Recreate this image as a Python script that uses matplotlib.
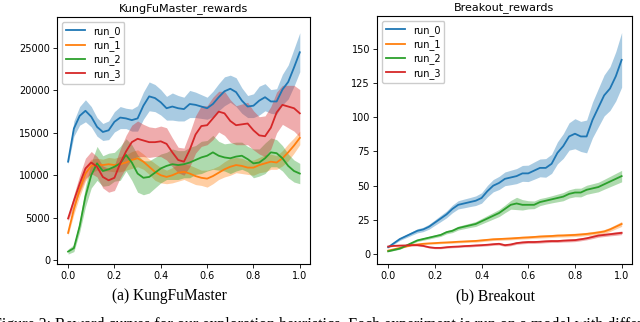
import numpy as np
import matplotlib.pyplot as plt

# x grid (fraction of training)
x = np.linspace(0, 1, 41)

# KungFuMaster means and band half-widths
kfm_run0 = [11600, 15500, 17000, 17600, 16900, 15700, 15100, 15300, 16300, 16800,
            16700, 16500, 16700, 18200, 19300, 19100, 18600, 17900, 18100, 17900,
            17800, 18400, 18300, 18100, 17900, 18400, 19200, 19900, 20200, 19800,
            18800, 18100, 18200, 18800, 19200, 18700, 18700, 20100, 21000, 22700, 24500]
kfm_run0_err = [300, 900, 1100, 1300, 1200, 1100, 1000, 1100, 1200, 1300,
                1200, 1300, 1500, 1600, 1700, 1600, 1500, 1400, 1600, 1500,
                1400, 1600, 1500, 1400, 1300, 1500, 1600, 1700, 1600, 1700,
                1500, 1300, 1400, 1700, 1600, 1400, 1500, 1800, 2000, 2200, 2300]
kfm_run1 = [3200, 6000, 8300, 10200, 11100, 11300, 11200, 11300, 11200, 11300,
            11500, 11800, 12000, 11600, 11000, 10400, 10000, 9800, 10000, 10300,
            10400, 10200, 9900, 9700, 9600, 9900, 10300, 10700, 11000, 11200,
            11100, 10900, 10900, 11200, 11400, 11600, 11500, 12000, 12700, 13500, 14400]
kfm_run1_err = [300, 600, 800, 900, 800, 700, 700, 800, 800, 900,
                900, 1000, 1000, 900, 900, 1000, 900, 800, 900, 1000,
                900, 1000, 1000, 900, 1000, 900, 800, 900, 1000, 900,
                900, 800, 900, 900, 1000, 900, 800, 900, 1000, 900, 800]
kfm_run2 = [1000, 1400, 4000, 7500, 10000, 11400, 10500, 10700, 11000, 11400,
            12400, 11500, 10200, 9700, 9800, 10300, 10800, 11100, 11300, 11200,
            11300, 11500, 11800, 12100, 12300, 12700, 12300, 12100, 12000, 12200,
            12300, 11900, 11400, 11500, 12000, 12700, 12600, 12000, 11100, 10500, 10200]
kfm_run2_err = [300, 400, 700, 1200, 1500, 2000, 1800, 1900, 1700, 2000,
                1900, 2100, 2200, 2000, 1900, 1800, 1700, 1600, 1800, 1700,
                1600, 1800, 1700, 1900, 1800, 2000, 1700, 1600, 1800, 1700,
                1600, 1500, 1700, 1600, 1800, 1700, 1600, 1500, 1400, 1300, 1200]
kfm_run3 = [4900, 7000, 9000, 10800, 11500, 11000, 9800, 9400, 9700, 11400,
            12800, 13900, 14300, 14100, 13900, 13900, 14000, 13700, 12700, 11800,
            11600, 13000, 14800, 15800, 15900, 16700, 17500, 17300, 16400, 15900,
            16000, 16100, 15300, 14700, 14600, 15600, 17400, 18300, 18100, 17900, 17300]
kfm_run3_err = [300, 700, 1000, 1200, 1300, 1200, 1300, 1400, 1500, 1700,
                1900, 2000, 2100, 1900, 1800, 1700, 1800, 1900, 1700, 1500,
                1600, 2000, 2200, 2400, 2300, 2500, 2400, 2600, 2500, 2300,
                2400, 2500, 2300, 2200, 2400, 2500, 2400, 2300, 2500, 2700, 2800]

# Breakout means and band half-widths
brk_run0 = [5, 8, 11, 13, 15, 17, 18, 20, 23, 26,
            29, 33, 36, 37, 38, 39, 41, 46, 50, 52,
            55, 56, 57, 59, 59, 61, 63, 63, 66, 74,
            79, 86, 88, 86, 86, 98, 107, 116, 121, 130, 142]
brk_run0_err = [0.5, 0.8, 1, 1.2, 1.3, 1.5, 1.6, 1.8, 2, 2.3,
                2.5, 2.8, 3, 3.2, 3.3, 3.5, 3.8, 4.2, 4.5, 4.8,
                5, 5.3, 5.5, 5.8, 6, 6.3, 6.5, 6.8, 7, 8,
                9, 10, 11, 11, 12, 13, 14, 15, 16, 18, 20]
brk_run1 = [2.5, 3.5, 4.5, 5.5, 6.5, 7, 7.5, 7.8, 8, 8.3,
            8.5, 8.7, 9, 9.2, 9.4, 9.6, 10, 10.4, 10.8, 11,
            11.2, 11.4, 11.7, 12, 12.2, 12.5, 12.8, 13, 13.2, 13.5,
            13.6, 13.8, 14, 14.3, 14.7, 15.2, 15.8, 16.5, 18, 20, 22]
brk_run1_err = [0.3, 0.4, 0.4, 0.5, 0.5, 0.6, 0.6, 0.6, 0.7, 0.7,
                0.7, 0.8, 0.8, 0.8, 0.8, 0.9, 0.9, 0.9, 0.9, 1,
                1, 1, 1, 1, 1, 1, 1.1, 1.1, 1.1, 1.1,
                1.1, 1.2, 1.2, 1.2, 1.2, 1.3, 1.3, 1.4, 1.5, 1.6, 1.8]
brk_run2 = [2, 3, 4, 6, 8, 10, 11, 12, 13, 14,
            16, 17, 19, 20, 21, 22, 24, 26, 28, 30,
            33, 36, 37, 36, 36, 36, 38, 39, 40, 41,
            42, 44, 45, 45, 47, 48, 49, 51, 53, 55, 57]
brk_run2_err = [0.3, 0.4, 0.5, 0.6, 0.7, 0.8, 0.9, 1, 1, 1.1,
                1.2, 1.3, 1.4, 1.5, 1.6, 1.8, 2, 2.2, 2.4, 2.6,
                2.8, 3.2, 4.5, 3.8, 3, 2.8, 2.6, 2.5, 2.6, 2.8,
                3, 3, 3.1, 3.2, 3.3, 3.4, 3.5, 3.6, 3.8, 4, 4.2]
brk_run3 = [5.5, 6, 6.2, 6.3, 6.5, 6.5, 6, 5, 4.5, 4.5,
            5, 5.3, 5.5, 5.8, 6, 6.3, 6.5, 6.8, 7.2, 7.5,
            6.5, 7, 8, 8.5, 8.8, 8.8, 9, 9.3, 9.5, 9.5,
            9.8, 10, 10.2, 10.8, 11.5, 12.5, 13.5, 14, 14.5, 15, 15.5]
brk_run3_err = [0.3, 0.4, 0.4, 0.5, 0.5, 0.5, 0.6, 0.6, 0.6, 0.6,
                0.7, 0.7, 0.7, 0.7, 0.8, 0.8, 0.8, 0.8, 0.8, 0.9,
                0.9, 0.9, 0.9, 1, 1, 1, 1, 1, 1, 1,
                1, 1.1, 1.1, 1.1, 1.1, 1.2, 1.2, 1.2, 1.2, 1.3, 1.3]

labels = ['run_0', 'run_1', 'run_2', 'run_3']
colors = ['#1f77b4', '#ff7f0e', '#2ca02c', '#d62728']

fig = plt.figure(figsize=(6.4, 3.22), dpi=100)
ax1 = fig.add_axes([0.089, 0.180, 0.395, 0.767])
ax2 = fig.add_axes([0.589, 0.180, 0.398, 0.770])


def draw(ax, means, errs, title, ylim, yticks):
    for m, e, lab, c in zip(means, errs, labels, colors):
        m = np.array(m, dtype=float)
        e = np.array(e, dtype=float)
        ax.fill_between(x, m - e, m + e, color=c, alpha=0.38, linewidth=0)
        ax.plot(x, m, color=c, lw=1.3, label=lab)
    ax.set_title(title, fontsize=8, pad=4)
    ax.set_xlim(-0.048, 1.043)
    ax.set_ylim(*ylim)
    ax.set_yticks(yticks)
    ax.set_xticks([0.0, 0.2, 0.4, 0.6, 0.8, 1.0])
    ax.tick_params(labelsize=7, length=3, width=0.6, pad=2)
    for s in ax.spines.values():
        s.set_linewidth(0.8)
    ax.legend(loc='upper left', fontsize=7, handlelength=2.0, borderpad=0.4,
              labelspacing=0.35, handletextpad=0.8, framealpha=1, fancybox=True)


draw(ax1, [kfm_run0, kfm_run1, kfm_run2, kfm_run3],
     [kfm_run0_err, kfm_run1_err, kfm_run2_err, kfm_run3_err],
     'KungFuMaster_rewards', (-470, 28650), [0, 5000, 10000, 15000, 20000, 25000])
draw(ax2, [brk_run0, brk_run1, brk_run2, brk_run3],
     [brk_run0_err, brk_run1_err, brk_run2_err, brk_run3_err],
     'Breakout_rewards', (-7.3, 174), [0, 25, 50, 75, 100, 125, 150])

# captions
fig.text(0.264, 0.081, '(a) KungFuMaster', ha='center', va='center',
         fontsize=11.2, family='Liberation Serif')
fig.text(0.775, 0.081, '(b) Breakout', ha='center', va='center',
         fontsize=11.2, family='Liberation Serif')
# figure caption, only its top shows at the lower edge
fig.text(0.511, 0.016, 'Figure 2: Reward curves for our exploration heuristics. Each experiment is run on a model with different',
         ha='center', va='top', fontsize=11.5, family='Liberation Serif')

plt.savefig('out.png', dpi=100)
